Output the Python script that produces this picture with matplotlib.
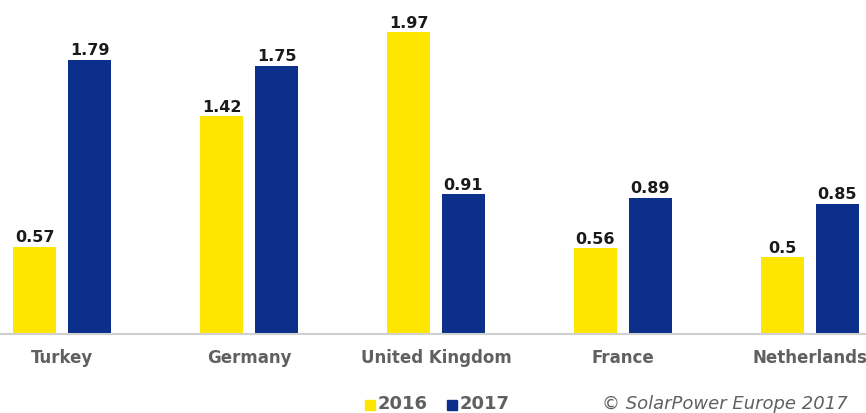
import numpy as np
import matplotlib.pyplot as plt
from matplotlib.patches import Rectangle

countries = ['Turkey', 'Germany', 'United Kingdom', 'France', 'Netherlands']
vals_2016 = [0.57, 1.42, 1.97, 0.56, 0.5]
vals_2017 = [1.79, 1.75, 0.91, 0.89, 0.85]
labels_2016 = ['0.57', '1.42', '1.97', '0.56', '0.5']
labels_2017 = ['1.79', '1.75', '0.91', '0.89', '0.85']

yellow = '#FFE600'
blue = '#0B2F8A'
grey = '#606060'

fig = plt.figure(figsize=(8.66, 4.14), dpi=100)
ax = fig.add_axes([0, 0.191, 1, 0.809])

x = np.arange(len(countries))
w = 0.23
off = 0.147
b1 = ax.bar(x - off, vals_2016, w, color=yellow)
b2 = ax.bar(x + off, vals_2017, w, color=blue)

for bars, labs in [(b1, labels_2016), (b2, labels_2017)]:
    for b, t in zip(bars, labs):
        ax.text(b.get_x() + b.get_width() / 2, b.get_height() + 0.015, t,
                ha='center', va='bottom', fontsize=11.5, fontweight='bold',
                color='#1a1a1a')

ax.set_xlim(-0.332, 4.30)
ax.set_ylim(0, 2.185)
for s in ['top', 'right', 'left']:
    ax.spines[s].set_visible(False)
ax.spines['bottom'].set_color('#d0d0d0')
ax.spines['bottom'].set_linewidth(1.5)
ax.set_yticks([])
ax.set_xticks(x)
ax.set_xticklabels(countries, fontsize=12, fontweight='bold', color=grey)
ax.tick_params(axis='x', length=0, pad=10)

# legend
ly = 1 - 404 / 414
fig.patches.append(Rectangle((365 / 866, 1 - 411 / 414), 10 / 866, 10 / 414,
                             transform=fig.transFigure, color=yellow))
fig.text(378 / 866, ly, '2016', fontsize=13, fontweight='bold', color=grey,
         va='center')
fig.patches.append(Rectangle((447 / 866, 1 - 411 / 414), 10 / 866, 10 / 414,
                             transform=fig.transFigure, color=blue))
fig.text(460 / 866, ly, '2017', fontsize=13, fontweight='bold', color=grey,
         va='center')
fig.text(602 / 866, ly, '\u00a9 SolarPower Europe 2017', fontsize=13,
         style='italic', color=grey, va='center')

fig.savefig('out.png', dpi=100)
